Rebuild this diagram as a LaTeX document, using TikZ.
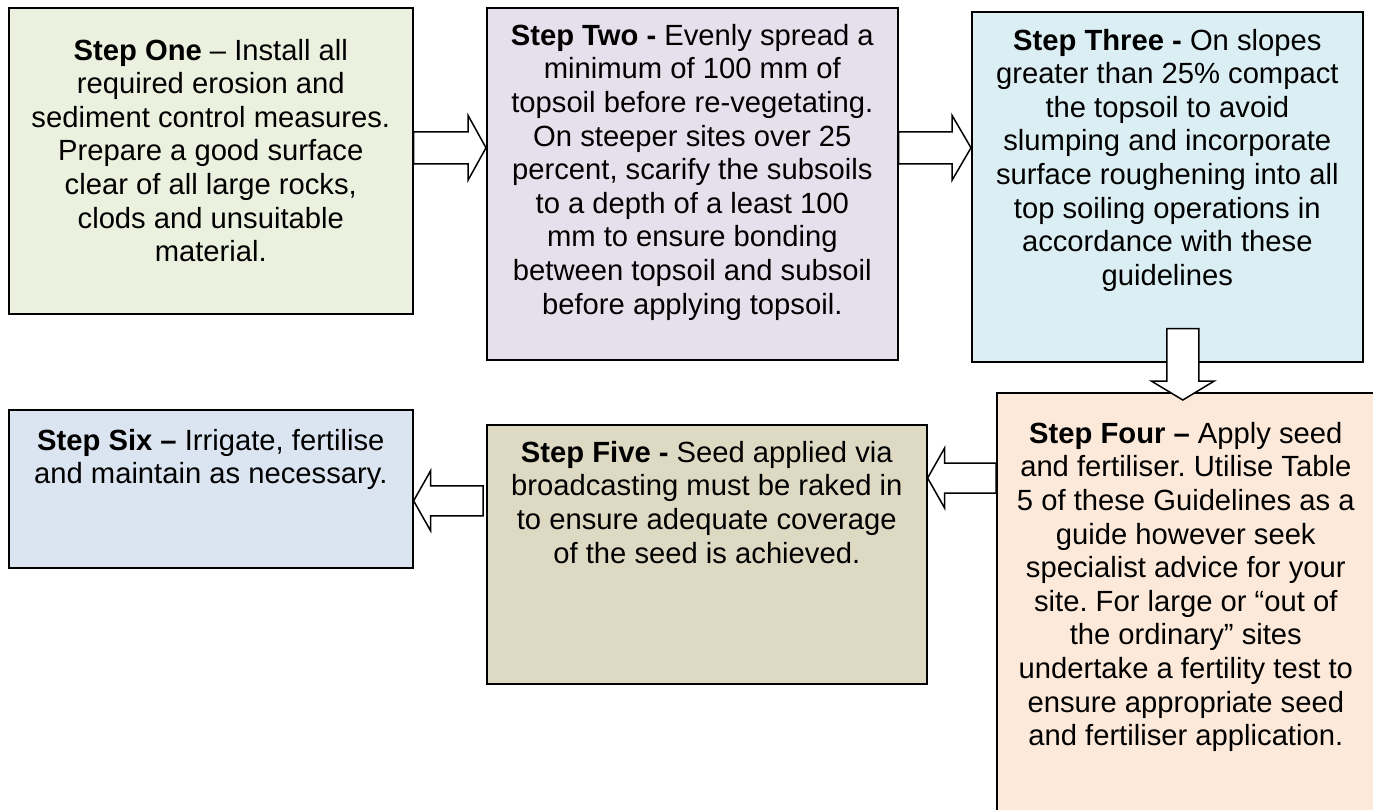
\documentclass[tikz,border=0pt]{standalone}
\usepackage{fontspec}
\setmainfont{Liberation Sans}
\usetikzlibrary{calc}
\frenchspacing

\definecolor{stepgreen}{HTML}{EBF1DE}
\definecolor{steppurple}{HTML}{E5E0EC}
\definecolor{stepaqua}{HTML}{DBEEF3}
\definecolor{steppeach}{HTML}{FDE9D9}
\definecolor{steptan}{HTML}{DDD9C3}
\definecolor{stepblue}{HTML}{DBE5F1}

\tikzset{
  stepbox/.style={draw=black, line width=1.6pt, inner sep=0pt, anchor=north west},
  steptext/.style={anchor=north, inner sep=0pt, align=center,
                   font=\fontsize{29.2pt}{33.6pt}\selectfont},
  barrow/.style={draw=black, fill=white, line width=1.5pt, line join=miter},
}

% fixed height for the first line, so every text block hangs from the same point
\newcommand{\stepstrut}{\rule{0pt}{30pt}}

% block arrow: #1 tail, #2 tip, #3 half shaft width, #4 half head width, #5 head length
\newcommand{\blockarrow}[5]{%
  \coordinate (ba-base) at ($(#2)!#5!(#1)$);
  \draw[barrow]
    ($(#1)!#3!90:(#2)$) -- ($(ba-base)!#3!90:(#2)$) -- ($(ba-base)!#4!90:(#2)$)
    -- (#2)
    -- ($(ba-base)!#4!-90:(#2)$) -- ($(ba-base)!#3!-90:(#2)$) -- ($(#1)!#3!-90:(#2)$)
    -- cycle;
}

\begin{document}
\begin{tikzpicture}[x=1pt, y=-1pt]
\useasboundingbox (0,0) rectangle (1373,810);
\clip (0,0) rectangle (1373,810);

% step boxes
\node[stepbox, fill=stepgreen,  minimum width=404pt, minimum height=306pt] (one)   at (8,7)     {};
\node[stepbox, fill=steppurple, minimum width=411pt, minimum height=352pt] (two)   at (486,7)   {};
\node[stepbox, fill=stepaqua,   minimum width=391pt, minimum height=350pt] (three) at (971,11)  {};
\node[stepbox, fill=steppeach,  minimum width=384pt, minimum height=440pt] (four)  at (996,392) {};
\node[stepbox, fill=steptan,    minimum width=440pt, minimum height=259pt] (five)  at (486,424) {};
\node[stepbox, fill=stepblue,   minimum width=404pt, minimum height=158pt] (six)   at (8,409)   {};

% step texts
\node[steptext] (one-text) at ([yshift=-23pt]one.north) {\stepstrut\textbf{Step One} – Install all\\
  required erosion and\\ sediment control measures.\\ Prepare a good surface\\
  clear of all large rocks,\\ clods and unsuitable\\ material.};
\node[steptext] (two-text) at ([yshift=-8pt]two.north) {\stepstrut\textbf{Step Two -} Evenly spread a\\
  minimum of 100 mm of\\ topsoil before re-vegetating.\\ On steeper sites over 25\\
  percent, scarify the subsoils\\ to a depth of a least 100\\ mm to ensure bonding\\
  between topsoil and subsoil\\ before applying topsoil.};
\node[steptext] (three-text) at ([yshift=-9pt]three.north) {\stepstrut\textbf{Step Three -} On slopes\\
  greater than 25\% compact\\ the topsoil to avoid\\ slumping and incorporate\\
  surface roughening into all\\ top soiling operations in\\ accordance with these\\ guidelines};
\node[steptext] (four-text) at ([xshift=-3pt, yshift=-21pt]four.north) {\stepstrut\textbf{Step Four –} Apply seed\\
  and fertiliser. Utilise Table\\ 5 of these Guidelines as a\\ guide however seek\\
  specialist advice for your\\ site. For large or “out of\\ the ordinary” sites\\
  undertake a fertility test to\\ ensure appropriate seed\\ and fertiliser application.};
\node[steptext] (five-text) at ([yshift=-8pt]five.north) {\stepstrut\textbf{Step Five -} Seed applied via\\
  broadcasting must be raked in\\ to ensure adequate coverage\\ of the seed is achieved.};
\node[steptext] (six-text) at ([yshift=-11pt]six.north) {\stepstrut\textbf{Step Six –} Irrigate, fertilise\\
  and maintain as necessary.};

% block arrows between the steps
\coordinate (t12) at ([yshift=13pt]one.east);
\coordinate (p12) at (two.west |- t12);
\blockarrow{t12}{p12}{16pt}{32.5pt}{18pt}

\coordinate (t23) at (two.east |- t12);
\coordinate (p23) at (three.west |- t12);
\blockarrow{t23}{p23}{16pt}{32.5pt}{19pt}

\coordinate (t34) at ([xshift=15.5pt, yshift=34pt]three.south);
\coordinate (f34) at (t34 |- four.north);
\coordinate (p34) at ([yshift=-8pt]f34);
\blockarrow{t34}{p34}{16pt}{31.5pt}{19pt}

\coordinate (p45) at ([yshift=-54pt]five.north east);
\coordinate (t45) at (four.west |- p45);
\blockarrow{t45}{p45}{15pt}{30pt}{17pt}

\coordinate (p56) at ([yshift=-12pt]six.east);
\coordinate (g56) at (five.west |- p56);
\coordinate (t56) at ([xshift=-3pt]g56);
\blockarrow{t56}{p56}{15pt}{30pt}{17pt}
\end{tikzpicture}
\end{document}
